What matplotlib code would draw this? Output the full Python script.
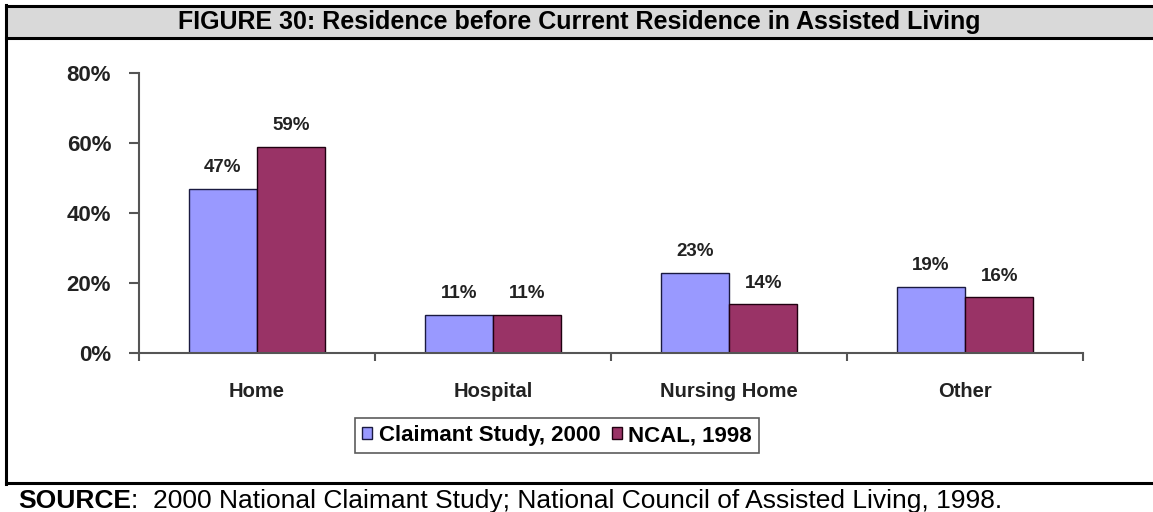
import matplotlib.pyplot as plt
from matplotlib.patches import Rectangle
from matplotlib.lines import Line2D
from matplotlib.ticker import FixedLocator, PercentFormatter

# residence before assisted living, percent of residents
categories = ["Home", "Hospital", "Nursing Home", "Other"]
claimant_2000 = [47, 11, 23, 19]
ncal_1998 = [59, 11, 14, 16]
series_names = ["Claimant Study, 2000", "NCAL, 1998"]
y_ticks = [0, 20, 40, 60, 80]

title = "FIGURE 30: Residence before Current Residence in Assisted Living"
source_bold = "SOURCE"
source_rest = ":  2000 National Claimant Study; National Council of Assisted Living, 1998."

W, H = 1153, 512
plt.rcParams["font.family"] = ["Liberation Sans", "DejaVu Sans"]

fig = plt.figure(figsize=(W / 100, H / 100), dpi=100)


def fx(px):
    return px / W


def fy(py):
    return 1 - py / H


# frame: grey title band and the black border lines
fig.add_artist(Rectangle((fx(6), fy(38)), fx(W - 6), fy(6) - fy(38),
                         transform=fig.transFigure, facecolor="#d9d9d9", edgecolor="none"))
for xs, ys in [((6, W), (6, 6)), ((6, W), (38, 38)), ((6, W), (483, 483)), ((6, 6), (5, 484))]:
    fig.add_artist(Line2D([fx(xs[0]), fx(xs[1])], [fy(ys[0]), fy(ys[1])],
                          transform=fig.transFigure, color="black", lw=2.2))

fig.text(fx(579), fy(22), title, ha="center", va="center",
         fontsize=18, fontweight="bold")
t = fig.text(fx(18), fy(508), source_bold, ha="left", va="baseline", fontsize=19, fontweight="bold")
fig.canvas.draw()
bb = t.get_window_extent()
fig.text(bb.x1 / W, fy(508), source_rest, ha="left", va="baseline", fontsize=19)

ax = fig.add_axes([fx(139), fy(353), fx(1083) - fx(139), fy(73) - fy(353)])

x = list(range(len(categories)))
w = 0.29
light = "#9999ff"
dark = "#993366"
b1 = ax.bar([i - w / 2 for i in x], claimant_2000, w, color=light,
            edgecolor="#1a1a40", linewidth=1, label=series_names[0])
b2 = ax.bar([i + w / 2 for i in x], ncal_1998, w, color=dark,
            edgecolor="#200010", linewidth=1, label=series_names[1])

for bars, vals in [(b1, claimant_2000), (b2, ncal_1998)]:
    for rect, v in zip(bars, vals):
        ax.annotate(f"{v}%", (rect.get_x() + rect.get_width() / 2, v),
                    xytext=(0, 15), textcoords="offset points",
                    ha="center", va="center", fontsize=13.5, fontweight="bold", color="#222222")

ax.set_xlim(-0.5, len(categories) - 0.5)
ax.set_ylim(0, 80)
ax.set_yticks(y_ticks)
ax.yaxis.set_major_formatter(PercentFormatter(decimals=0))
ax.set_xticks(x)
ax.set_xticklabels(categories)
ax.xaxis.set_minor_locator(FixedLocator([i - 0.5 for i in range(len(categories) + 1)]))

for s in ["top", "right"]:
    ax.spines[s].set_visible(False)
for s in ["left", "bottom"]:
    ax.spines[s].set_color("#555555")
    ax.spines[s].set_linewidth(1.5)

ax.tick_params(axis="y", direction="out", length=7, width=1.5, color="#555555",
               pad=13, labelsize=16)
ax.tick_params(axis="x", which="major", length=0, pad=21, labelsize=14.5)
ax.tick_params(axis="x", which="minor", direction="out", length=6, width=1.5, color="#555555")
for lab in ax.get_xticklabels() + ax.get_yticklabels():
    lab.set_fontweight("bold")
    lab.set_color("#222222")

leg = fig.legend(handles=[b1, b2], loc="upper left", bbox_to_anchor=(fx(355), fy(418)),
                 ncol=2, frameon=True, fancybox=False, edgecolor="#333333",
                 handlelength=0.45, handleheight=0.45, handletextpad=0.3, columnspacing=0.5,
                 borderpad=0.32, borderaxespad=0, prop={"weight": "bold", "size": 16})
leg.get_frame().set_linewidth(1.2)

fig.savefig("out.png", dpi=100)
